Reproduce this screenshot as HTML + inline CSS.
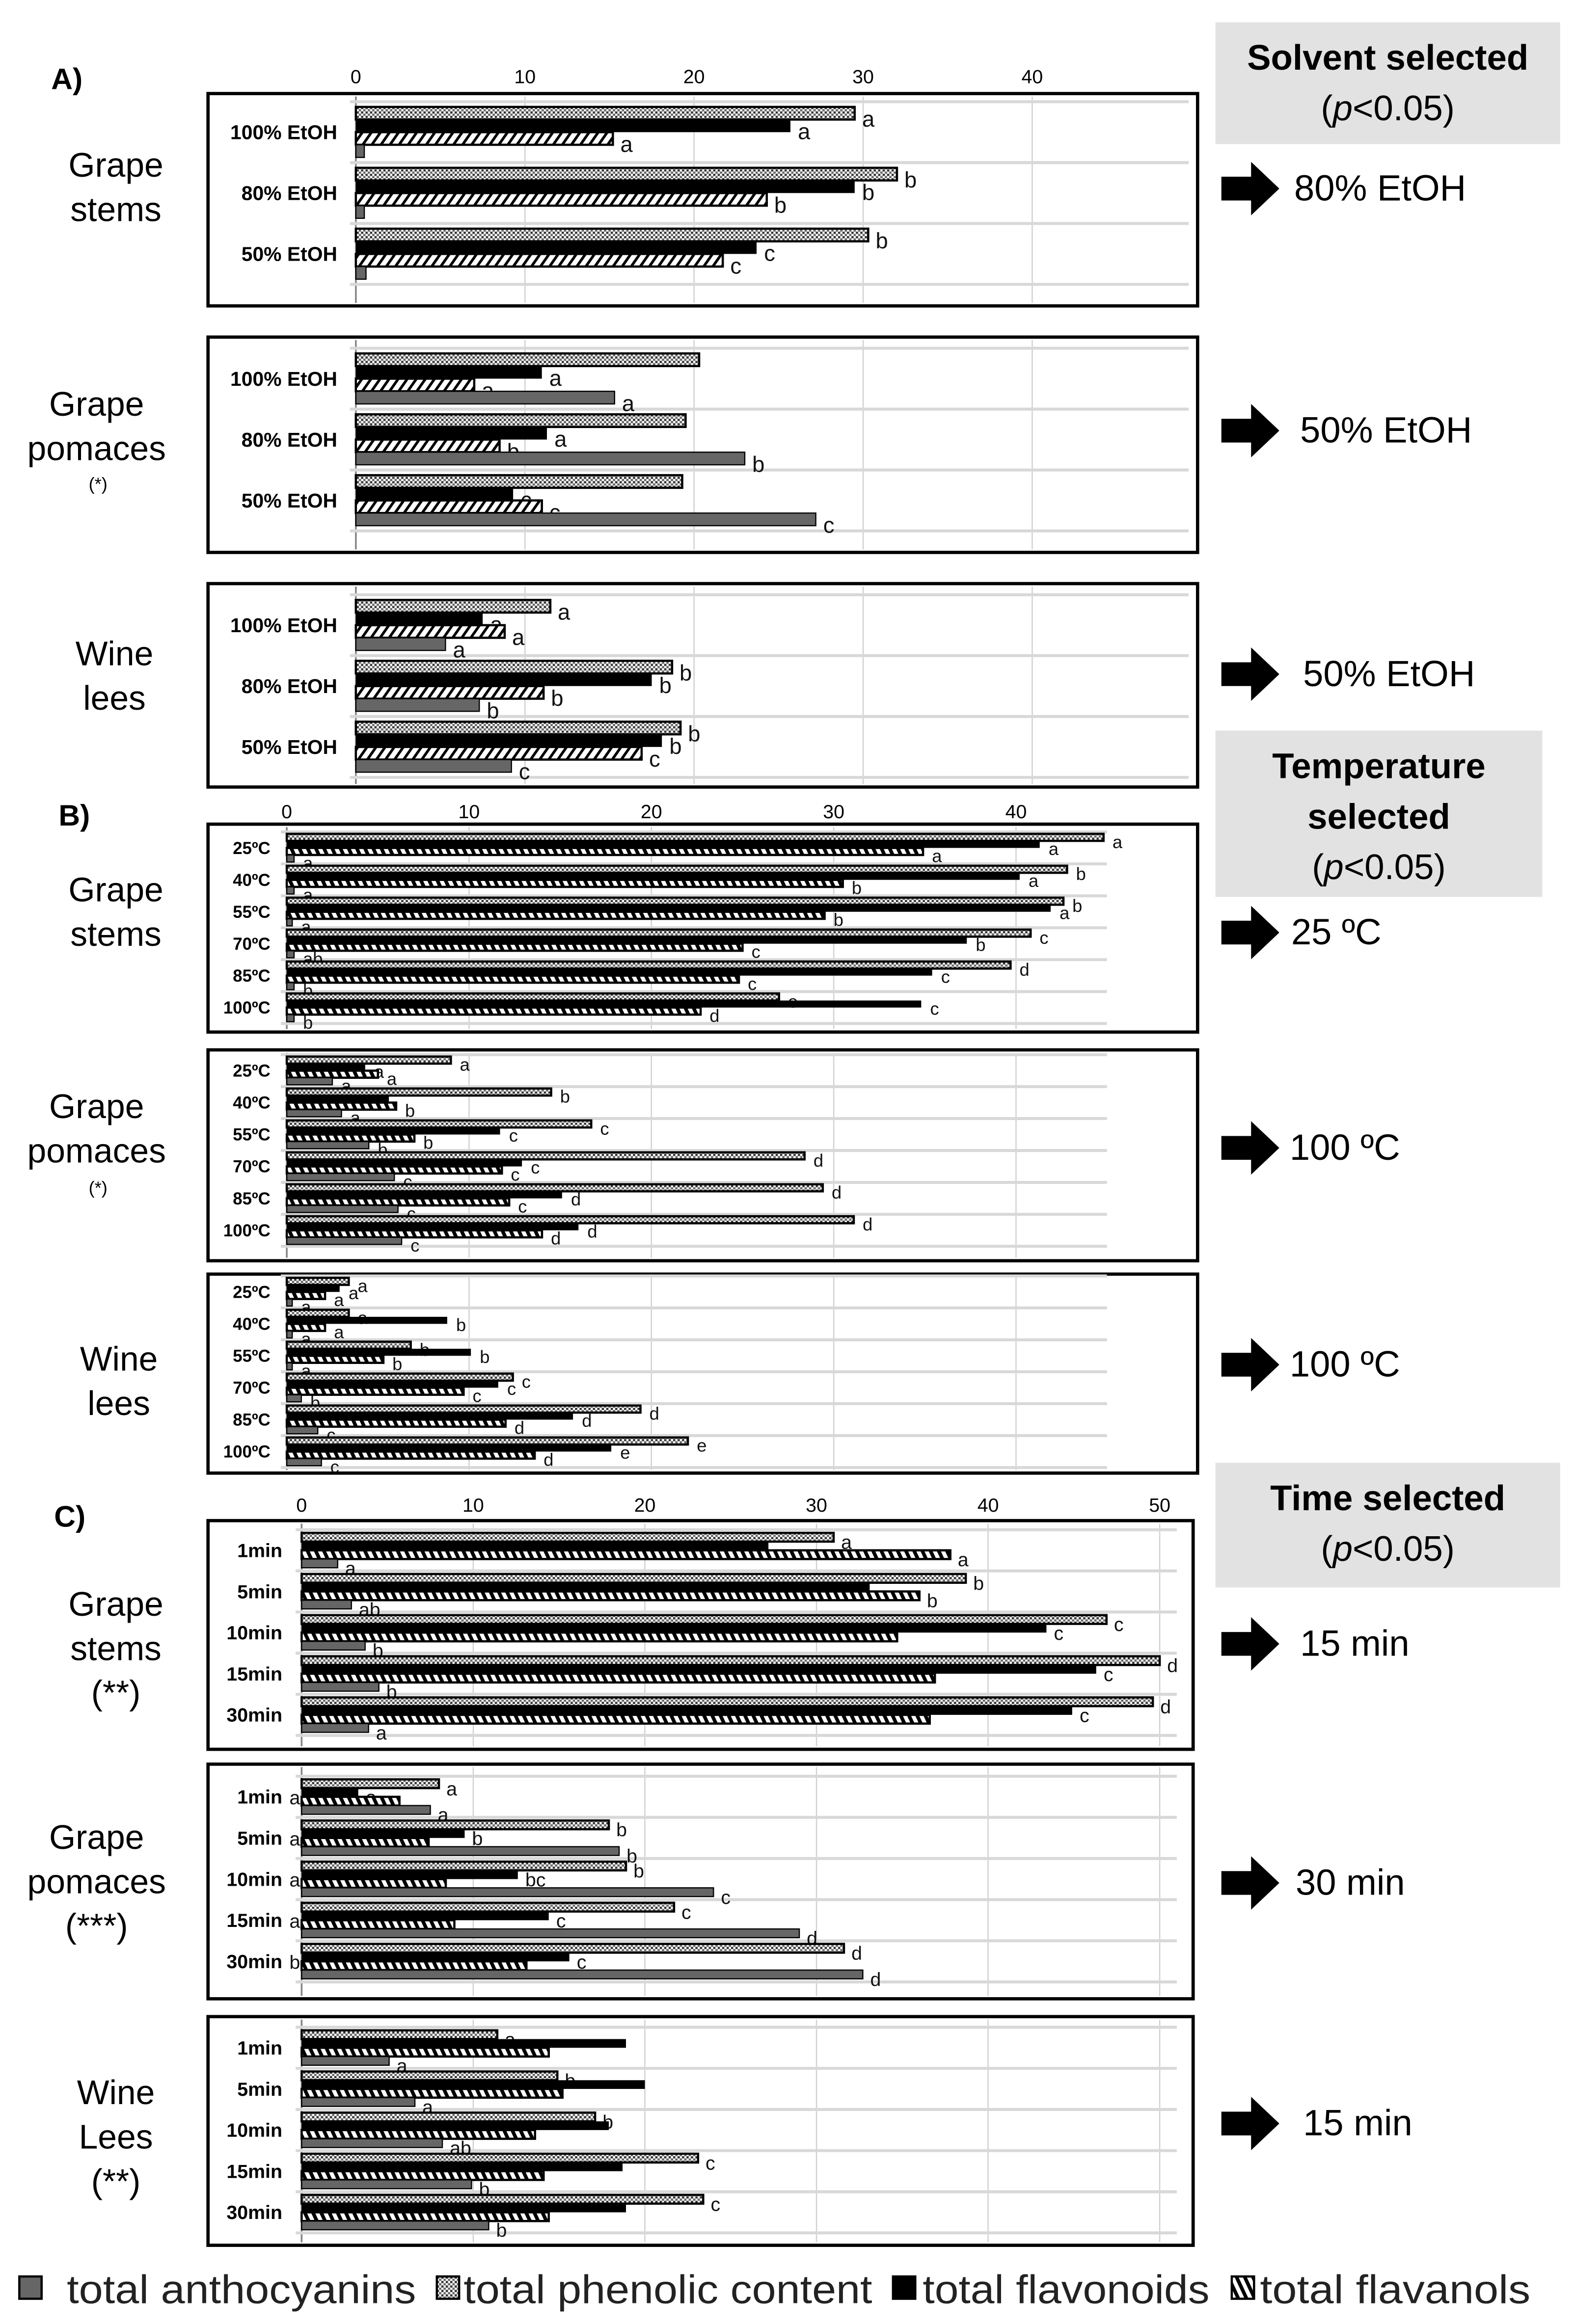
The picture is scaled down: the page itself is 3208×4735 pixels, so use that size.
<!DOCTYPE html>
<html><head><meta charset="utf-8">
<style>
html,body{margin:0;padding:0;background:#fff;}
svg{display:block;font-family:"Liberation Sans",sans-serif;}
</style></head>
<body>
<svg id="fig" width="3208" height="4735" viewBox="0 0 1060 1565" preserveAspectRatio="none" xmlns="http://www.w3.org/2000/svg">
<defs>
<pattern id="dots" width="3" height="3" patternUnits="userSpaceOnUse">
<rect width="3" height="3" fill="#fff"/><rect x="0" y="0" width="1.5" height="1.5" fill="#333"/><rect x="1.5" y="1.5" width="1.5" height="1.5" fill="#666"/>
</pattern>
<pattern id="hatchA" width="5" height="5" patternUnits="userSpaceOnUse" patternTransform="rotate(35)">
<rect width="5" height="5" fill="#fff"/><rect width="1.8" height="5" fill="#000"/>
</pattern>
<pattern id="hatchB" width="5" height="5" patternUnits="userSpaceOnUse" patternTransform="rotate(-25)">
<rect width="5" height="5" fill="#fff"/><rect width="2.4" height="5" fill="#000"/>
</pattern>
</defs>
<g id="static"></g>
<g id="charts"></g>
</svg>
<script>
// ---------- Panel A: solvent ----------
const A_cats = ["100% EtOH","80% EtOH","50% EtOH"];
const A_ticks = [0,10,20,30,40];
const A_stems_phen = [29.5,32.0,30.3];
const A_stems_flav = [25.7,29.5,23.7];
const A_stems_fvn  = [15.2,24.3,21.7];
const A_stems_anth = [0.5,0.5,0.6];
const A_stems_lab  = [["a","b","b"],["a","b","c"],["a","b","c"],["","",""]];
const A_pom_phen = [20.3,19.5,19.3];
const A_pom_flav = [11.0,11.3,9.3];
const A_pom_fvn  = [7.0,8.5,11.0];
const A_pom_anth = [15.3,23.0,27.2];
const A_pom_lab  = [["","",""],["a","a","c"],["a","b","c"],["a","b","c"]];
const A_lees_phen = [11.5,18.7,19.2];
const A_lees_flav = [7.5,17.5,18.1];
const A_lees_fvn  = [8.8,11.1,16.9];
const A_lees_anth = [5.3,7.3,9.2];
const A_lees_lab  = [["a","b","b"],["a","b","b"],["a","b","c"],["a","b","c"]];
// ---------- Panel B: temperature ----------
const B_cats = ["25ºC","40ºC","55ºC","70ºC","85ºC","100ºC"];
const B_ticks = [0,10,20,30,40];
const B_stems_phen = [44.8,42.8,42.6,40.8,39.7,27.0];
const B_stems_flav = [41.3,40.2,41.9,37.3,35.4,34.8];
const B_stems_fvn  = [34.9,30.5,29.5,25.0,24.8,22.7];
const B_stems_anth = [0.4,0.4,0.3,0.4,0.4,0.4];
const B_stems_lab  = [["a","b","b","c","d","e"],["a","a","a","b","c","c"],["a","b","b","c","c","d"],["a","a","a","ab","b","b"]];
const B_pom_phen = [9.0,14.5,16.7,28.4,29.4,31.1];
const B_pom_flav = [4.3,5.6,11.7,12.9,15.1,16.0];
const B_pom_fvn  = [5.0,6.0,7.0,11.8,12.2,14.0];
const B_pom_anth = [2.5,3.0,4.5,5.9,6.1,6.3];
const B_pom_lab  = [["a","b","c","d","d","d"],["a","","c","c","d","d"],["a","b","b","c","c","d"],["a","a","b","c","c","c"]];
const B_lees_phen = [3.4,3.4,6.8,12.4,19.4,22.0];
const B_lees_flav = [2.9,8.8,10.1,11.6,15.7,17.8];
const B_lees_fvn  = [2.1,2.1,5.3,9.7,12.0,13.6];
const B_lees_anth = [0.3,0.3,0.3,0.8,1.7,1.9];
const B_lees_lab  = [["a","a","b","c","d","e"],["a","b","b","c","d","e"],["a","a","b","c","d","d"],["a","a","a","b","c","c"]];
// ---------- Panel C: time ----------
const C_cats = ["1min","5min","10min","15min","30min"];
const C_ticks = [0,10,20,30,40,50];
const C_stems_phen = [31.0,38.7,46.9,50.0,49.6];
const C_stems_flav = [27.2,33.1,43.4,46.3,44.9];
const C_stems_fvn  = [37.8,36.0,34.7,36.9,36.6];
const C_stems_anth = [2.1,2.9,3.7,4.5,3.9];
const C_stems_lab  = [["a","b","c","d","d"],["","","c","c","c"],["a","b","","",""],["a","ab","b","b","a"]];
const C_pom_phen = [8.0,17.9,18.9,21.7,31.6];
const C_pom_flav = [3.3,9.5,12.6,14.4,15.6];
const C_pom_fvn  = [5.7,7.4,8.4,8.9,13.1];
const C_pom_anth = [7.5,18.5,24.0,29.0,32.7];
const C_pom_lab  = [["a","b","b","c","d"],["a","b","bc","c","c"],["","","","",""],["a","b","c","d","d"]];
const C_pom_axisLab = ["a","a","a","a","b"];
const C_lees_phen = [11.4,14.9,17.1,23.1,23.4];
const C_lees_flav = [18.9,20.0,17.9,18.7,18.9];
const C_lees_fvn  = [14.4,15.2,13.6,14.1,14.4];
const C_lees_anth = [5.1,6.6,8.2,9.9,10.9];
const C_lees_lab  = [["a","b","b","c","c"],["","","","",""],["","","","",""],["a","a","ab","b","b"]];

const NS = "http://www.w3.org/2000/svg";
const st = document.getElementById('static');
const ch = document.getElementById('charts');
function mk(tag, attrs, parent){
  const e = document.createElementNS(NS, tag);
  for (const k in attrs) e.setAttribute(k, attrs[k]);
  (parent||ch).appendChild(e); return e;
}
function txt(s, attrs, parent){ const e = mk('text', attrs, parent); e.textContent = s; return e; }

function drawAxis(ticks, x0, k, y, fs){
  ticks.forEach(t=>{
    const e = txt(String(t), {x:x0+t*k, y:y, 'font-size':fs, 'text-anchor':'middle', fill:'#000'});
    
    
  });
}

function drawPanel(p){
  const g = mk('g', {});
  
  
  const xs = v => p.x0 + v*p.k;
  const box = mk('rect',{x:p.box[0],y:p.box[1],width:p.box[2]-p.box[0],height:p.box[3]-p.box[1],fill:'#fff',stroke:'#000','stroke-width':2.2},g);
  
  
  const n = p.cats.length;
  const top = p.c0 - p.sp/2;
  p.ticks.forEach(t=>{
    const l = mk('line',{x1:xs(t),x2:xs(t),y1:p.box[1]+2,y2:p.box[3]-2,stroke:t===0?'#888':'#d0d0d0','stroke-width':t===0?1.2:0.8},g);
    
    
  });
  for(let i=0;i<=n;i++){
    const y = top + i*p.sp;
    const l = mk('line',{x1:p.x0-4,x2:p.gridEnd,y1:y,y2:y,stroke:'#d8d8d8','stroke-width':2},g);
    
    
  }
  const fills = ['url(#dots)','#000',p.hatch,'#666'];
  const names = ['bar-total-phenolic','bar-total-flavonoids','bar-total-flavanols','bar-total-anthocyanins'];
  const bh = p.H/4;
  p.cats.forEach((c,i)=>{
    const cy = p.c0 + i*p.sp;
    const lab = txt(c,{x:p.labelX,y:cy+p.catFs*0.35,'font-size':p.catFs,'font-weight':'bold','text-anchor':'end'},g);
    
    
    p.series.forEach((arr,s)=>{
      const y = cy - p.H/2 + s*bh;
      const w = Math.max(arr[i]*p.k, 0.8);
      const r = mk('rect',{x:p.x0,y:y,width:w,height:bh,fill:fills[s],stroke:s===1?'none':'#000','stroke-width':s===3?0.8:1.5},g);
      
      
      const L = p.letters[s][i];
      if(L){
        const t = txt(L,{x:p.x0+w+p.lx,y:y+bh/2+p.letFs*0.6,'font-size':p.letFs,fill:'#111'},g);
        
        
      }
    });
    if(p.axisLetters){
      const t = txt(p.axisLetters[i],{x:p.x0-1,y:cy+5,'font-size':p.letFs,'text-anchor':'end',fill:'#111'},g);
      
      
    }
  });
}

const kA = 11.38, xA = 239.5;
drawAxis(A_ticks, xA, kA, 56, 13);
const Abase = {x0:xA,k:kA,ticks:A_ticks,gridEnd:800,cats:A_cats,sp:41,H:34,catFs:13.5,letFs:15,lx:5,labelX:227,hatch:'url(#hatchA)'};
drawPanel(Object.assign({},Abase,{name:'panel-a-grape-stems',box:[140,63,806,206],c0:89,series:[A_stems_phen,A_stems_flav,A_stems_fvn,A_stems_anth],letters:A_stems_lab}));
drawPanel(Object.assign({},Abase,{name:'panel-a-grape-pomaces',box:[140,227,806,372],c0:255,series:[A_pom_phen,A_pom_flav,A_pom_fvn,A_pom_anth],letters:A_pom_lab}));
drawPanel(Object.assign({},Abase,{name:'panel-a-wine-lees',box:[140,393,806,530],c0:421,series:[A_lees_phen,A_lees_flav,A_lees_fvn,A_lees_anth],letters:A_lees_lab}));
const kB = 12.27, xB = 193;
drawAxis(B_ticks, xB, kB, 551, 13);
const Bbase = {x0:xB,k:kB,ticks:B_ticks,gridEnd:745,cats:B_cats,sp:21.5,H:19,catFs:11.5,letFs:12,lx:6,labelX:182,hatch:'url(#hatchB)'};
drawPanel(Object.assign({},Bbase,{name:'panel-b-grape-stems',box:[140,555,806,695],c0:571,series:[B_stems_phen,B_stems_flav,B_stems_fvn,B_stems_anth],letters:B_stems_lab}));
drawPanel(Object.assign({},Bbase,{name:'panel-b-grape-pomaces',box:[140,707,806,849],c0:721,series:[B_pom_phen,B_pom_flav,B_pom_fvn,B_pom_anth],letters:B_pom_lab}));
drawPanel(Object.assign({},Bbase,{name:'panel-b-wine-lees',box:[140,858,806,992],c0:870,series:[B_lees_phen,B_lees_flav,B_lees_fvn,B_lees_anth],letters:B_lees_lab}));
const kC = 11.55, xC = 203;
drawAxis(C_ticks, xC, kC, 1018, 13);
const Cbase = {x0:xC,k:kC,ticks:C_ticks,gridEnd:792,cats:C_cats,sp:27.7,H:23.5,catFs:13,letFs:13,lx:5,labelX:190,hatch:'url(#hatchB)'};
drawPanel(Object.assign({},Cbase,{name:'panel-c-grape-stems',box:[140,1024,803,1178],c0:1044,series:[C_stems_phen,C_stems_flav,C_stems_fvn,C_stems_anth],letters:C_stems_lab}));
drawPanel(Object.assign({},Cbase,{name:'panel-c-grape-pomaces',box:[140,1188,803,1346],c0:1210,series:[C_pom_phen,C_pom_flav,C_pom_fvn,C_pom_anth],letters:C_pom_lab,axisLetters:C_pom_axisLab,labelX:190}));
drawPanel(Object.assign({},Cbase,{name:'panel-c-wine-lees',box:[140,1358,803,1512],c0:1379,series:[C_lees_phen,C_lees_flav,C_lees_fvn,C_lees_anth],letters:C_lees_lab}));

function label(lines, x, y, fs, name, extra){
  const t = mk('text',Object.assign({x:x,y:y,'font-size':fs,'text-anchor':'middle'},extra||{}),st);
  
  
  lines.forEach((l,i)=>{ const s=mk('tspan',{x:x,dy:i?fs*1.3:0},t); s.textContent=l; });
}
label(['A)'],45,60,20,'section-a-label',{'font-weight':'bold'});
label(['B)'],50,556,20,'section-b-label',{'font-weight':'bold'});
label(['C)'],47,1028,20,'section-c-label',{'font-weight':'bold'});
label(['Grape','stems'],78,119,23,'row-label-grape-stems');
label(['Grape','pomaces'],65,280,23,'row-label-grape-pomaces');
label(['(*)'],66,330,12,'row-note');
label(['Wine','lees'],77,448,23,'row-label-wine-lees');
label(['Grape','stems'],78,607,23,'row-label-grape-stems');
label(['Grape','pomaces'],65,753,23,'row-label-grape-pomaces');
label(['(*)'],66,804,12,'row-note');
label(['Wine','lees'],80,923,23,'row-label-wine-lees');
label(['Grape','stems','(**)'],78,1088,23,'row-label-grape-stems');
label(['Grape','pomaces','(***)'],65,1245,23,'row-label-grape-pomaces');
label(['Wine','Lees','(**)'],78,1417,23,'row-label-wine-lees');

function selBox(x,y,w,h,lines,name){
  const r = mk('rect',{x:x,y:y,width:w,height:h,fill:'#e2e2e2'},st);
  
  
  lines.forEach((l,i)=>{
    const t = mk('text',{x:x+w/2,y:y+32+i*34,'font-size':24,'text-anchor':'middle','font-weight':l.b?'bold':'normal'},st);
    
    
    if(l.p){ const a=mk('tspan',{},t);a.textContent='('; const b=mk('tspan',{'font-style':'italic'},t);b.textContent='p'; const c=mk('tspan',{},t);c.textContent='<0.05)'; }
    else t.textContent=l.t;
  });
}
selBox(818,15,232,82,[{t:'Solvent selected',b:1},{p:1}],'solvent-selected-box');
selBox(818,492,220,112,[{t:'Temperature',b:1},{t:'selected',b:1},{p:1}],'temperature-selected-box');
selBox(818,985,232,84,[{t:'Time selected',b:1},{p:1}],'time-selected-box');

function arrow(y,text,tx,name){
  const a = mk('polygon',{points:`822,${y-8} 842,${y-8} 842,${y-18} 861,${y} 842,${y+18} 842,${y+8} 822,${y+8}`,fill:'#000'},st);
  
  
  const t = mk('text',{x:tx,y:y+8,'font-size':24.5},st);
  t.textContent = text;
  
  
}
arrow(127,'80% EtOH',871,'selected-solvent-stems');
arrow(290,'50% EtOH',875,'selected-solvent-pomaces');
arrow(454,'50% EtOH',877,'selected-solvent-lees');
arrow(628,'25 ºC',869,'selected-temp-stems');
arrow(773,'100 ºC',868,'selected-temp-pomaces');
arrow(919,'100 ºC',868,'selected-temp-lees');
arrow(1107,'15 min',875,'selected-time-stems');
arrow(1268,'30 min',872,'selected-time-pomaces');
arrow(1430,'15 min',877,'selected-time-lees');

const legItems = [[12,'#666','total anthocyanins',45,235],[293,'url(#dots)','total phenolic content',312,275],[600,'#000','total flavonoids',621,193],[828,'url(#hatchB)','total flavanols',848,182]];
legItems.forEach(li=>{
  const r = mk('rect',{x:li[0]+1,y:1533,width:15,height:15,fill:li[1],stroke:'#000','stroke-width':1.5},st);
  
  
  const t = mk('text',{x:li[3],y:1551,'font-size':27,fill:'#222',textLength:li[4],lengthAdjust:'spacingAndGlyphs'},st);
  t.textContent = li[2];
  
  
});
</script>
</body></html>
